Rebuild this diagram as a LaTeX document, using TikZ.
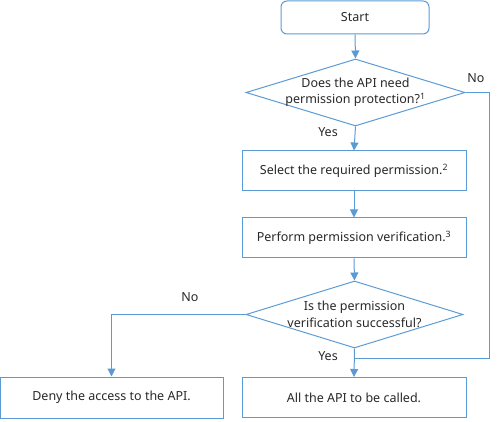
\documentclass[tikz,border=0pt]{standalone}
\usepackage{fontspec}
\setmainfont{Noto Sans}
\usetikzlibrary{shapes.geometric,arrows.meta}
\definecolor{lineblue}{RGB}{91,155,213}
\definecolor{textgray}{RGB}{40,40,40}
\begin{document}
\begin{tikzpicture}
[x=1pt,y=-1pt,
  linedecorate/.style={-,draw=lineblue,line width=1pt},%
  arrowdecorate/.style={linedecorate,-{Triangle[length=8pt,width=8pt]}},%
  boxdecorate/.style={draw=lineblue,line width=1pt,inner sep=0pt,
    minimum width=224pt,minimum height=40pt,text=textgray},%
  decisiondecorate/.style={diamond,draw=lineblue,line width=1pt,inner sep=0pt},%
  labeldecorate/.style={text=textgray},
  questiondecorate/.style={labeldecorate,align=center,
    font=\fontsize{12.5}{16.5}\selectfont},
  font=\fontsize{12.5}{15}\selectfont]
\useasboundingbox (0,0) rectangle (501,422);
%% nodes or vertices
\node (start) at (355,17.5) [boxdecorate,rounded corners=6pt,
  minimum width=148pt,minimum height=33pt] {Start};
\node (needperm) at (355.5,92.5) [decisiondecorate,minimum width=219pt,
  minimum height=67pt,label={[questiondecorate]center:Does the API need\\
  permission protection?\textsuperscript{1}}] {};
\foreach \nodename/\x/\y/\txt in {select/354/171/{Select the required permission.\textsuperscript{2}},
  verify/354/238/{Perform permission verification.\textsuperscript{3}},
  allow/354/397.5/{All the API to be called.}} {
  \node (\nodename) at (\x,\y) [boxdecorate] {\txt};
}
\node (deny) at (111.5,397.5) [boxdecorate,minimum width=223pt,minimum height=41pt]
  {Deny the access to the API.};
\node (success) at (354.5,314.5) [decisiondecorate,minimum width=217pt,
  minimum height=67pt,label={[questiondecorate]center:Is the permission\\
  verification successful?}] {};
\coordinate (join) at (354,358);
%% edges or lines
\path
\foreach \startnode/\endnode in {start/needperm, needperm/select,
  select/verify, verify/success, success/allow} {
  (\startnode.south) edge[arrowdecorate] (\endnode.north)
};
\draw[linedecorate] (needperm.east) -- ++(24,0) |- (join);
\draw[arrowdecorate] (success.west) -| (deny.north);
%% labels
\node [labeldecorate] at (328,132) {Yes};
\node [labeldecorate] at (476,78) {No};
\node [labeldecorate] at (190,297) {No};
\node [labeldecorate] at (328,356) {Yes};
\end{tikzpicture}
\end{document}
